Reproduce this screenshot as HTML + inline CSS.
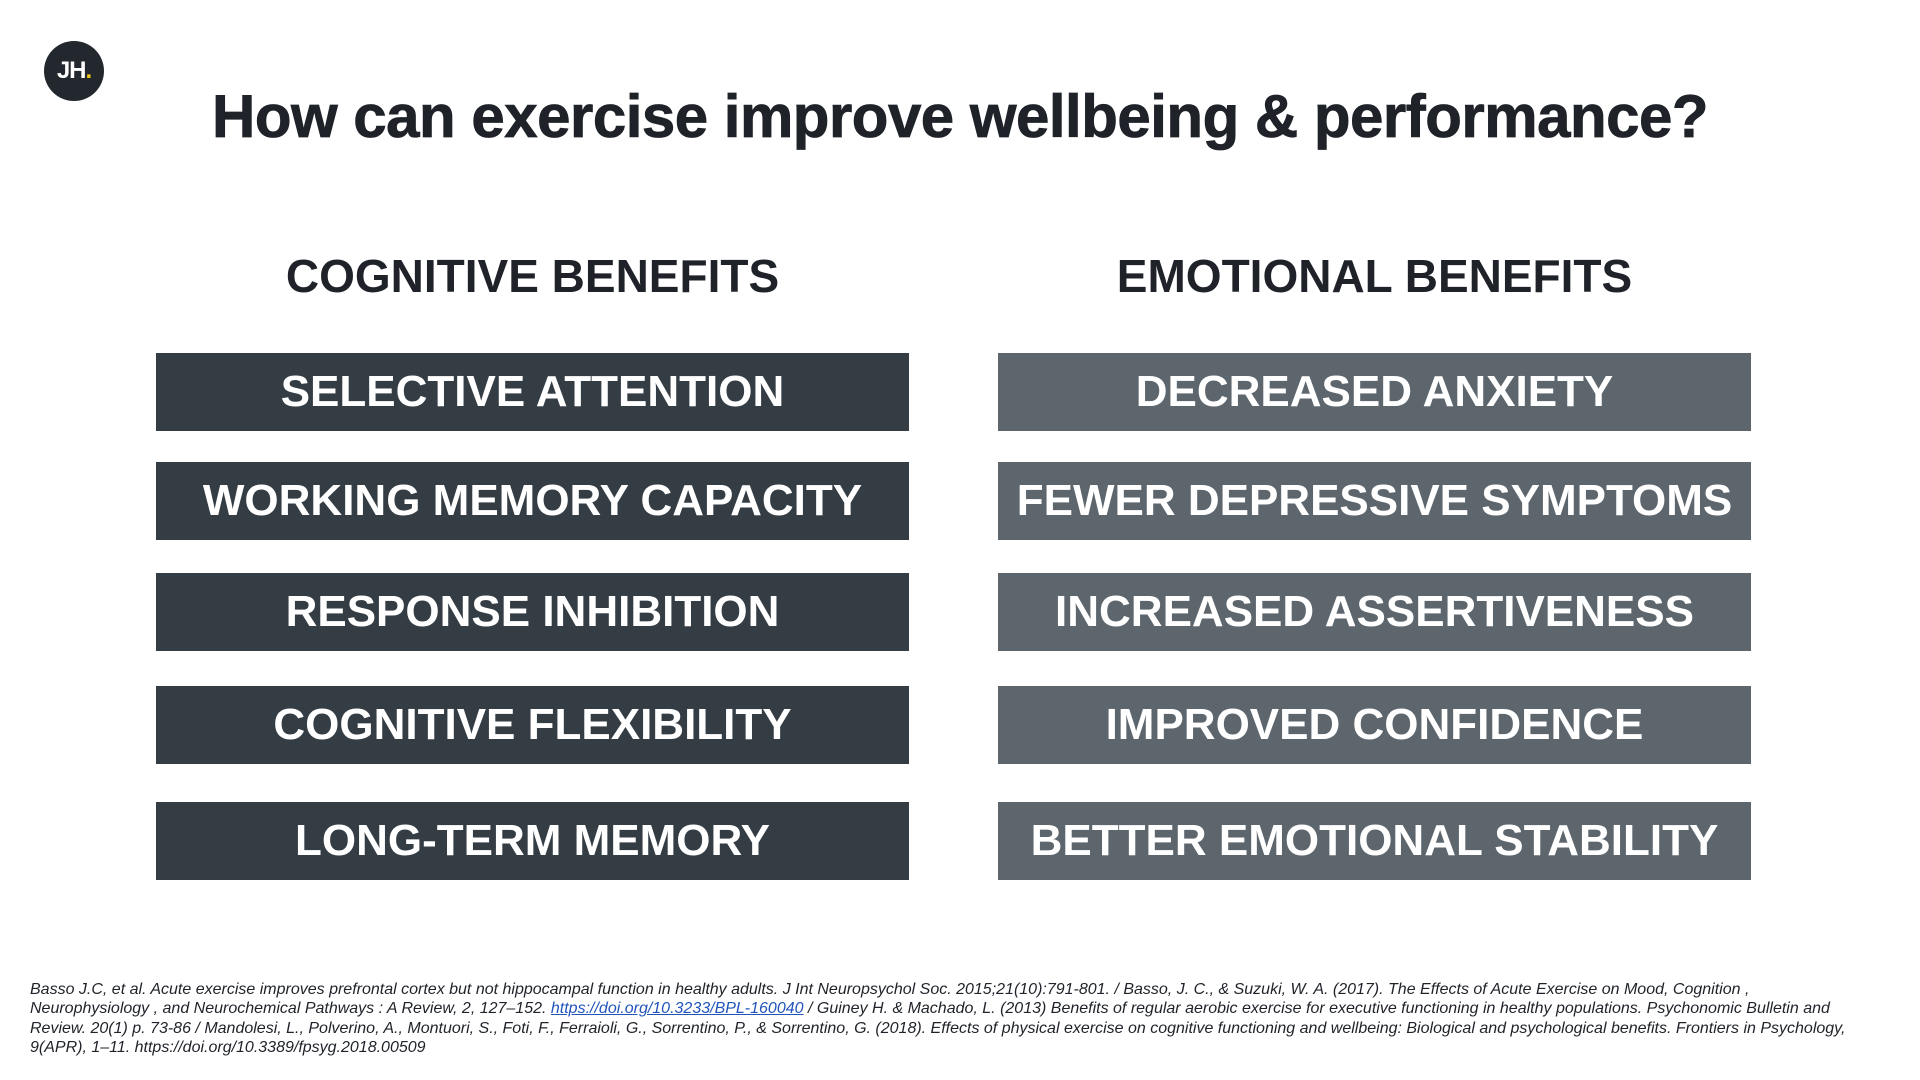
<!DOCTYPE html>
<html><head><meta charset="utf-8"><style>
html,body{margin:0;padding:0;background:#fff;width:1920px;height:1080px;overflow:hidden;font-family:"Liberation Sans",sans-serif;}
.logo{position:absolute;left:44px;top:41px;width:60px;height:60px;border-radius:50%;background:#23282e;color:#fff;font-weight:bold;font-size:24px;line-height:60px;text-align:center;letter-spacing:-1px}
.logo span{color:#f0c419}
.title{position:absolute;left:0;width:1920px;top:82px;text-align:center;font-size:60px;font-weight:bold;color:#1f2329;letter-spacing:-0.5px;-webkit-text-stroke:0.8px #1f2329}
.h{position:absolute;top:249px;width:753px;text-align:center;font-size:46px;font-weight:bold;color:#1f2329}
.box{position:absolute;width:753px;height:78px;color:#fff;font-weight:bold;font-size:44px;line-height:78px;text-align:center;white-space:nowrap}
.l{left:156px;background:#343c44}
.r{left:998px;background:#5d656d}
.foot{position:absolute;left:30px;top:980px;width:1900px;font-size:16px;line-height:19.3px;font-style:italic;color:#1f2329;white-space:nowrap}
.foot a{color:#2255bb;text-decoration:underline}
</style></head><body>
<div class="logo">JH<span>.</span></div>
<div class="title">How can exercise improve wellbeing &amp; performance?</div>
<div class="h" style="left:156px">COGNITIVE BENEFITS</div>
<div class="h" style="left:998px">EMOTIONAL BENEFITS</div>
<div class="box l" style="top:353px">SELECTIVE ATTENTION</div>
<div class="box l" style="top:462px">WORKING MEMORY CAPACITY</div>
<div class="box l" style="top:573px">RESPONSE INHIBITION</div>
<div class="box l" style="top:686px">COGNITIVE FLEXIBILITY</div>
<div class="box l" style="top:802px">LONG-TERM MEMORY</div>
<div class="box r" style="top:353px">DECREASED ANXIETY</div>
<div class="box r" style="top:462px">FEWER DEPRESSIVE SYMPTOMS</div>
<div class="box r" style="top:573px">INCREASED ASSERTIVENESS</div>
<div class="box r" style="top:686px">IMPROVED CONFIDENCE</div>
<div class="box r" style="top:802px">BETTER EMOTIONAL STABILITY</div>
<div class="foot">Basso J.C, et al. Acute exercise improves prefrontal cortex but not hippocampal function in healthy adults. J Int Neuropsychol Soc. 2015;21(10):791-801. / Basso, J. C., &amp; Suzuki, W. A. (2017). The Effects of Acute Exercise on Mood, Cognition ,<br>Neurophysiology , and Neurochemical Pathways : A Review, 2, 127–152. <a>https://doi.org/10.3233/BPL-160040</a> / Guiney H. &amp; Machado, L. (2013) Benefits of regular aerobic exercise for executive functioning in healthy populations. Psychonomic Bulletin and<br>Review. 20(1) p. 73-86 / Mandolesi, L., Polverino, A., Montuori, S., Foti, F., Ferraioli, G., Sorrentino, P., &amp; Sorrentino, G. (2018). Effects of physical exercise on cognitive functioning and wellbeing: Biological and psychological benefits. Frontiers in Psychology,<br>9(APR), 1–11. https://doi.org/10.3389/fpsyg.2018.00509</div>
</body></html>
